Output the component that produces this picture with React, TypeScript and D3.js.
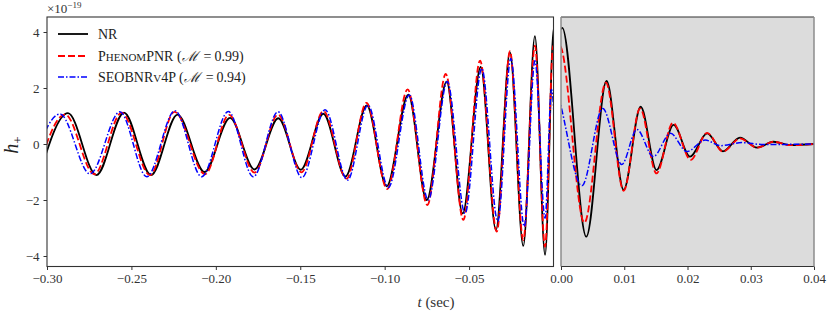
import * as d3 from "d3";
import { useRef, useEffect } from "react";

// waveform extrema (t in sec, h in units of 1e-19)
const nrT = [-0.3045, -0.2876, -0.2707, -0.2544, -0.2384, -0.2227, -0.2067, -0.1916, -0.1771, -0.163, -0.1497, -0.1363, -0.1232, -0.1106, -0.0988, -0.086, -0.0751, -0.0633, -0.0538, -0.0431, -0.0341, -0.0258, -0.0179, -0.011, -0.005, 0.0002, 0.004, 0.0072, 0.0099, 0.0126, 0.0151, 0.0178, 0.0204, 0.0231, 0.0256, 0.0283, 0.031, 0.0336, 0.0362, 0.04];
const nrH = [-1.1, 1.1, -1.11, 1.12, -1.11, 1.05, -1.0, 0.93, -0.91, 0.92, -0.92, 1.08, -1.16, 1.38, -1.51, 1.76, -2.0, 2.23, -2.48, 2.75, -3.07, 3.28, -3.64, 3.85, -3.96, 4.15, -3.31, 2.25, -1.64, 1.33, -0.93, 0.68, -0.45, 0.38, -0.26, 0.23, -0.13, 0.08, -0.04, 0.0];

const phT = [-0.306, -0.2893, -0.272, -0.2558, -0.239, -0.2245, -0.2064, -0.1922, -0.1771, -0.1632, -0.1493, -0.1363, -0.1226, -0.1108, -0.0985, -0.0864, -0.0747, -0.0638, -0.0534, -0.0435, -0.0336, -0.0258, -0.0179, -0.011, -0.005, -0.0002, 0.0037, 0.0071, 0.0099, 0.0125, 0.0151, 0.0177, 0.0205, 0.0231, 0.0256, 0.0283, 0.031, 0.0336, 0.0362, 0.04];
const phH = [-1.05, 1.06, -1.08, 1.12, -1.11, 1.15, -1.08, 1.04, -1.02, 1.05, -1.01, 1.18, -1.24, 1.47, -1.61, 1.95, -2.18, 2.5, -2.71, 2.98, -3.13, 3.32, -3.43, 3.51, -3.67, 3.5, -2.81, 2.19, -1.67, 1.27, -1.05, 0.76, -0.57, 0.4, -0.27, 0.2, -0.13, 0.08, -0.04, 0.0];

const seT = [-0.3105, -0.2923, -0.2745, -0.2568, -0.2409, -0.2242, -0.2084, -0.1926, -0.1778, -0.1632, -0.149, -0.1353, -0.122, -0.1099, -0.0978, -0.0854, -0.0742, -0.0629, -0.0524, -0.0425, -0.033, -0.0253, -0.0173, -0.011, -0.005, -0.0012, 0.0033, 0.0066, 0.0096, 0.012, 0.0146, 0.0173, 0.0199, 0.0228, 0.0252, 0.0286, 0.032, 0.04];
const seH = [-1.05, 1.07, -1.07, 1.15, -1.17, 1.19, -1.17, 1.16, -1.17, 1.15, -1.2, 1.22, -1.29, 1.39, -1.55, 1.75, -2.0, 2.23, -2.48, 2.7, -2.77, 3.05, -2.95, 2.97, -2.65, 1.95, -1.49, 1.27, -0.73, 0.52, -0.45, 0.38, -0.27, 0.14, -0.06, 0.05, -0.02, 0.0];

const xTicksLeft = [-0.3, -0.25, -0.2, -0.15, -0.1, -0.05];
const xTicksRight = [0.0, 0.01, 0.02, 0.03, 0.04];
const yTicks = [-4, -2, 0, 2, 4];

const width = 831;
const height = 317;
const top = 17;
const bottom = 266.5;
const font = "'Liberation Serif', 'DejaVu Serif', serif";

export default function App() {
  const gxl = useRef<SVGGElement>(null);
  const gxr = useRef<SVGGElement>(null);
  const gy = useRef<SVGGElement>(null);

  const xL = d3.scaleLinear().domain([-0.3, 0.0]).range([47, 553.5]);
  const xR = d3.scaleLinear().domain([0.0, 0.04]).range([561, 814]);
  const y = d3.scaleLinear().domain([-4, 4]).range([256, 32]);

  const series = [
    { t: nrT, h: nrH, color: "#000000", w: 1.8, dash: "none" },
    { t: phT, h: phH, color: "#ff0000", w: 1.8, dash: "7,3" },
    { t: seT, h: seH, color: "#0000ff", w: 1.5, dash: "6,2,1.5,2" },
  ];

  const pathFor = (x: d3.ScaleLinear<number, number>, t: number[], h: number[]) => {
    const pts: [number, number][] = t.map((v, i) => [v, h[i]]);
    return d3.line<[number, number]>()
      .x(d => x(d[0]))
      .y(d => y(d[1]))
      .curve(d3.curveMonotoneX)(pts) || "";
  };

  useEffect(() => {
    const style = (sel: any) => {
      sel.select(".domain").remove();
      sel.selectAll("text").style("font-family", font).style("font-size", "13px").attr("fill", "#333");
      sel.selectAll("line").attr("stroke", "#333");
    };
    d3.select(gxl.current!)
      .call(d3.axisBottom(xL).tickValues(xTicksLeft).tickFormat(d3.format(".2f")).tickSize(3.5).tickSizeOuter(0).tickPadding(4))
      .call(style);
    d3.select(gxr.current!)
      .call(d3.axisBottom(xR).tickValues(xTicksRight).tickFormat(d3.format(".2f")).tickSize(3.5).tickSizeOuter(0).tickPadding(4))
      .call(style);
    d3.select(gy.current!)
      .call(d3.axisLeft(y).tickValues(yTicks).tickFormat(d3.format("d")).tickSize(3.5).tickSizeOuter(0).tickPadding(4))
      .call(style);
  }, []);

  return (
    <svg width={width} height={height} style={{ position: "absolute", left: 0, top: 0, background: "#fff" }}>
      <defs>
        <clipPath id="clipL"><rect x={47} y={top} width={553.5 - 47} height={bottom - top} /></clipPath>
        <clipPath id="clipR"><rect x={561} y={top} width={814 - 561} height={bottom - top} /></clipPath>
      </defs>

      <rect x={561} y={top} width={814 - 561} height={bottom - top} fill="#dcdcdc" />

      <g clipPath="url(#clipL)" fill="none">
        {series.map((s, i) => (
          <path key={i} d={pathFor(xL, s.t, s.h)} stroke={s.color} strokeWidth={s.w} strokeDasharray={s.dash} />
        ))}
      </g>
      <g clipPath="url(#clipR)" fill="none">
        {series.map((s, i) => (
          <path key={i} d={pathFor(xR, s.t, s.h)} stroke={s.color} strokeWidth={s.w} strokeDasharray={s.dash} />
        ))}
      </g>

      {/* frames */}
      <rect x={47} y={top} width={553.5 - 47} height={bottom - top} fill="none" stroke="#333" strokeWidth={1.1} />
      <line x1={561} x2={814} y1={top} y2={top} stroke="#333" strokeWidth={1.1} />
      <line x1={561} x2={814} y1={bottom} y2={bottom} stroke="#333" strokeWidth={1.1} />
      <line x1={561} x2={561} y1={top} y2={bottom} stroke="#8c8c8c" strokeWidth={1.5} />
      <line x1={814} x2={814} y1={top} y2={bottom} stroke="#8c8c8c" strokeWidth={1.5} />

      <g ref={gxl} transform={`translate(0,${bottom})`} />
      <g ref={gxr} transform={`translate(0,${bottom})`} />
      <g ref={gy} transform={`translate(47,0)`} />

      {/* offset text */}
      <text x={47} y={13} fontFamily={font} fontSize={13} fill="#333">
        ×10<tspan fontSize={9} dy={-5}>−19</tspan>
      </text>

      {/* legend */}
      <g fontFamily={font} fontSize={14} fill="#222">
        <line x1={58} x2={88} y1={34} y2={34} stroke="#000" strokeWidth={1.8} />
        <text x={98} y={38.5}>NR</text>
        <line x1={58} x2={88} y1={56} y2={56} stroke="#ff0000" strokeWidth={1.8} strokeDasharray="7,3" />
        <text x={98} y={60.5}>
          P<tspan fontSize={11}>HENOM</tspan>PNR (<tspan fontStyle="italic">ℳ</tspan><tspan dx={6}>=</tspan><tspan dx={3}>0.99)</tspan>
        </text>
        <line x1={58} x2={88} y1={77} y2={77} stroke="#0000ff" strokeWidth={1.5} strokeDasharray="6,2,1.5,2" />
        <text x={98} y={81.5}>
          SEOBNR<tspan fontSize={11}>V</tspan>4P (<tspan fontStyle="italic">ℳ</tspan><tspan dx={6}>=</tspan><tspan dx={3}>0.94)</tspan>
        </text>
      </g>

      {/* axis labels */}
      <text transform="translate(18,145) rotate(-90)" textAnchor="middle" fontFamily={font} fontSize={20} fill="#222">
        <tspan fontStyle="italic">h</tspan><tspan fontSize={13} dy={4}>+</tspan>
      </text>
      <text x={436} y={307} textAnchor="middle" fontFamily={font} fontSize={15} fill="#333">
        <tspan fontStyle="italic">t</tspan> (sec)
      </text>
    </svg>
  );
}
